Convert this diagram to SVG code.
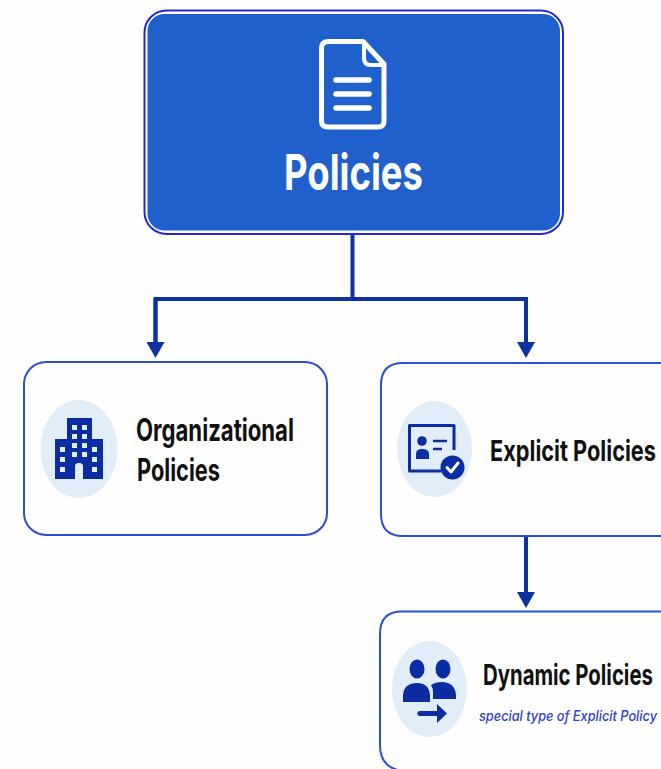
<svg xmlns="http://www.w3.org/2000/svg" width="661" height="769" viewBox="0 0 661 769">
<defs>
<marker id="arrow" markerUnits="userSpaceOnUse" markerWidth="16" markerHeight="18" refX="1" refY="9" orient="auto">
<path d="M0 0L16 9L0 18Z" fill="#0d32a0"/>
</marker>
</defs>
<style>
.card{fill:#fefefe;stroke:#2a4fd0;stroke-width:2}
.disc{fill:#e1edf9}
.ink{fill:#0b2ca2}
.lbl{font-family:Inter,"Liberation Sans",sans-serif;font-weight:650;fill:#111}
.wire{fill:none;stroke:#0d32a0;stroke-width:4}
.ws{fill:none;stroke:#fff;stroke-linecap:round;stroke-linejoin:round}
</style>
<rect width="661" height="769" fill="#fefefe"/>
<g id="connectors">
<path class="wire" d="M352.500 235V299"/>
<path class="wire" d="M155.500 343V299H526V343"/>
<path class="wire" d="M155.500 299V343" marker-end="url(#arrow)"/>
<path class="wire" d="M526 299V343" marker-end="url(#arrow)"/>
<path class="wire" d="M526 537V593" marker-end="url(#arrow)"/>
</g>
<g id="policies">
<rect x="144.500" y="10.500" width="418.500" height="223.500" rx="22" fill="#fff" stroke="#2626d8" stroke-width="2"/>
<rect x="147.500" y="14" width="412.500" height="216.500" rx="17" fill="#1f60cc"/>
<path class="ws" stroke-width="5" d="M329 41.500H363L384 64V121Q384 127 378 127H328Q321.500 127 321.500 121V48Q321.500 41.500 329 41.500Z"/>
<path class="ws" stroke-width="4" d="M364 42V58Q364 65 371 65H383"/>
<path class="ws" stroke-width="5.500" d="M336 80H369M336 94H369M336 108H369"/>
<text x="284" y="190" font-size="49" textLength="139" lengthAdjust="spacingAndGlyphs" style="font-family:Inter,'Liberation Sans',sans-serif;font-weight:650;fill:#fff">Policies</text>
</g>
<g id="organizational">
<rect class="card" x="24" y="362" width="303" height="173" rx="22"/>
<ellipse class="disc" cx="79" cy="449" rx="38.500" ry="49"/>
<path class="ink" d="M67 418H92V439H103V479H55V439H67Z"/>
<path fill="#e1edf9" d="M72 425h5v5h-5zM82 425h5v5h-5zM72 434h5v5h-5zM82 434h5v5h-5zM72 443h5v5h-5zM82 443h5v5h-5zM60 447h5v5h-5zM92 447h5v5h-5zM72 452h5v5h-5zM82 452h5v5h-5zM60 457h5v5h-5zM92 457h5v5h-5zM60 467h5v5h-5zM92 467h5v5h-5zM75 479V466Q75 463 79 463Q83 463 83 466V479Z"/>
<text class="lbl" transform="translate(136 441) scale(.72 1)" font-size="31" textLength="219.400" lengthAdjust="spacingAndGlyphs">Organizational</text>
<text class="lbl" transform="translate(137 481) scale(.72 1)" font-size="31" textLength="115.300" lengthAdjust="spacingAndGlyphs">Policies</text>
</g>
<g id="explicit">
<path class="card" d="M662 363H403Q381 363 381 385V514Q381 536 403 536H662"/>
<ellipse class="disc" cx="434.500" cy="449" rx="37.500" ry="48"/>
<path d="M454 450V425.500H409.500V471H441" fill="none" stroke="#0b2ca2" stroke-width="3" stroke-linejoin="round"/>
<circle class="ink" cx="422" cy="441" r="4.800"/>
<path class="ink" d="M416 459V454Q416 449 422 449Q429 449 429 454V459Z"/>
<path d="M433 441H447M433 449H442" fill="none" stroke="#0b2ca2" stroke-width="2.500"/>
<circle class="ink" cx="452.500" cy="467.500" r="12"/>
<path class="ws" stroke-width="3" d="M447 467.500L451 472L458 463"/>
<text class="lbl" transform="translate(490 461) scale(.72 1)" font-size="29" textLength="230.500" lengthAdjust="spacingAndGlyphs">Explicit Policies</text>
</g>
<g id="dynamic">
<path class="card" d="M662 611.500H402Q380 611.500 380 634V745Q380 769 404 771"/>
<ellipse class="disc" cx="429.500" cy="689" rx="37.500" ry="48"/>
<ellipse class="ink" cx="417" cy="669" rx="7.500" ry="9.500"/>
<ellipse class="ink" cx="443" cy="669" rx="7.500" ry="9.500"/>
<path class="ink" d="M403 702V695Q404 683 417 683Q429 683 430 695V702Z"/>
<path class="ink" d="M433 699V693Q433 688 431 685Q435 682 443 682Q455 683 456 695V699Z"/>
<path class="ink" d="M419 711H437V704L447 713.500L437 723V716H419Q415.500 713.500 419 711Z"/>
<text class="lbl" transform="translate(483 685) scale(.72 1)" font-size="29" textLength="236" lengthAdjust="spacingAndGlyphs">Dynamic Policies</text>
<text transform="translate(479 721) scale(.85 1)" font-size="14.500" textLength="209.400" lengthAdjust="spacingAndGlyphs" style="font-family:Inter,'Liberation Sans',sans-serif;font-style:italic;font-weight:500;fill:#2f3fc8">special type of Explicit Policy</text>
</g>
</svg>
